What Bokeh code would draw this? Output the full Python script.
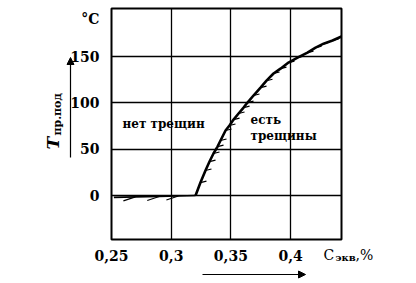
import numpy as np
from bokeh.plotting import figure
from bokeh.models import FixedTicker, Label, Arrow, NormalHead, Range1d, GridBox
from bokeh.embed import file_html
from bokeh.resources import INLINE

# ---- data ----
x_ticks = [0.25, 0.3, 0.35, 0.4]
x_tick_labels = ["0,25", "0,3", "0,35", "0,4"]
y_ticks = [0, 50, 100, 150]
y_tick_labels = ["0", "50", "100", "150"]
y_unit_pos = 191
y_unit = "°C"

base_x = [0.252, 0.270, 0.290, 0.306, 0.3204]
base_y = [-2, -1.5, -1, -0.5, 0]

curve_x = [0.3204, 0.3245, 0.3287, 0.3321, 0.3354, 0.3388, 0.3413, 0.3455,
           0.3488, 0.3522, 0.3564, 0.3606, 0.3639, 0.3689, 0.3748, 0.3798,
           0.3857, 0.3915, 0.3982, 0.4058, 0.4141, 0.4209, 0.4276, 0.4351, 0.4426]
curve_y = [0, 14, 27, 36.7, 45.4, 52.9, 59.4, 70.2,
           75.6, 82, 88.6, 95, 100.4, 108, 116.6, 124,
           131.8, 137, 143.6, 149, 154.4, 159.8, 164, 167.4, 171.7]

X0, X1 = 0.25, 0.4426
Y0, Y1 = -47.5, 202
W, H = 416, 283
L, R, T, B = 111, 75, 8, 44
FONT = "DejaVu Serif"

# ---------------- main chart ----------------
p = figure(width=W, height=H, output_backend="svg", toolbar_location=None,
           x_range=Range1d(X0, X1), y_range=Range1d(Y0, Y1),
           min_border_left=L, min_border_right=R, min_border_top=T, min_border_bottom=B)
p.outline_line_color = "black"
p.outline_line_width = 2

sx = (X1 - X0) / (W - L - R)
sy = (Y1 - Y0) / (H - T - B)

for ax in (p.xaxis[0], p.yaxis[0]):
    ax.major_tick_line_color = None
    ax.minor_tick_line_color = None
    ax.axis_line_color = None
    ax.major_label_text_font = FONT
    ax.major_label_text_font_size = "14px"
    ax.major_label_text_font_style = "bold"
    ax.major_label_text_color = "black"

p.xaxis.ticker = FixedTicker(ticks=x_ticks)
p.xaxis.major_label_overrides = dict(zip(x_ticks, x_tick_labels))
p.xaxis.major_label_standoff = 4
p.yaxis.ticker = FixedTicker(ticks=y_ticks + [y_unit_pos])
ov = dict(zip(y_ticks, y_tick_labels)); ov[y_unit_pos] = y_unit
p.yaxis.major_label_overrides = ov
p.yaxis.major_label_standoff = 6

p.xgrid.ticker = FixedTicker(ticks=x_ticks)
p.ygrid.ticker = FixedTicker(ticks=y_ticks)
for g in (p.xgrid[0], p.ygrid[0]):
    g.grid_line_color = "black"
    g.grid_line_width = 1.3

p.line(base_x, base_y, line_color="black", line_width=1.6)
p.line(curve_x, curve_y, line_color="black", line_width=2.6)

bx = np.array(base_x[1:-1]); by = np.array(base_y[1:-1])
p.segment(bx - 12 * sx, by - 4 * sy, bx, by, line_color="black", line_width=1.2)
cx = np.array(curve_x[1:-1]); cy = np.array(curve_y[1:-1])
p.segment(cx, cy, cx + 6 * sx, cy + 1.5 * sy, line_color="black", line_width=1.2)


def lab(fig, x, y, t, size="12px", style="bold", angle=0):
    fig.add_layout(Label(x=x, y=y, x_units="screen", y_units="screen",
                         text=t, text_font=FONT, text_font_size=size,
                         text_font_style=style, text_align="left", text_baseline="middle",
                         text_color="black", angle=angle))


# region texts (frame-relative screen coordinates)
lab(p, 122 - L, (H - B) - 123.5, "нет трещин")
lab(p, 250 - L, (H - B) - 119, "есть")
lab(p, 250 - L, (H - B) - 135, "трещины")

# ---------------- transparent overlay for texts outside the frame ----------------
o = figure(width=W, height=H, output_backend="svg", toolbar_location=None,
           x_axis_type=None, y_axis_type=None,
           x_range=Range1d(0, W), y_range=Range1d(0, H),
           min_border=0, min_border_left=0, min_border_right=0,
           min_border_top=0, min_border_bottom=0)
o.outline_line_color = None
o.background_fill_color = None
o.border_fill_color = None

if "frame_align" in o.properties():
    o.frame_align = False
    p.frame_align = False
    OX, OY = 0, H
else:
    OX, OY = L, H - B

def ox(px):
    return px - OX

def oy(py):
    return OY - py

# y title (rotated)
lab(o, ox(52), oy(149), "T", size="17px", style="bold italic", angle=np.pi / 2)
lab(o, ox(57), oy(135), "пр.под", size="11px", angle=np.pi / 2)

# x title
lab(o, ox(323), oy(254), "C", size="14px", style="normal")
lab(o, ox(335), oy(257), "экв", size="10px")
lab(o, ox(355), oy(254), ",%", size="14px", style="normal")

# direction arrows
for (xs, ys, xe, ye) in [(70, 157, 70, 57), (202, 274, 305, 274)]:
    o.add_layout(Arrow(end=NormalHead(size=7, fill_color="black", line_color="black"),
                       x_start=ox(xs), y_start=oy(ys), x_end=ox(xe), y_end=oy(ye),
                       start_units="screen", end_units="screen",
                       line_color="black", line_width=1.2))

layout = GridBox(children=[(p, 0, 0), (o, 0, 0)])
open("out.html", "w").write(file_html(layout, INLINE))
